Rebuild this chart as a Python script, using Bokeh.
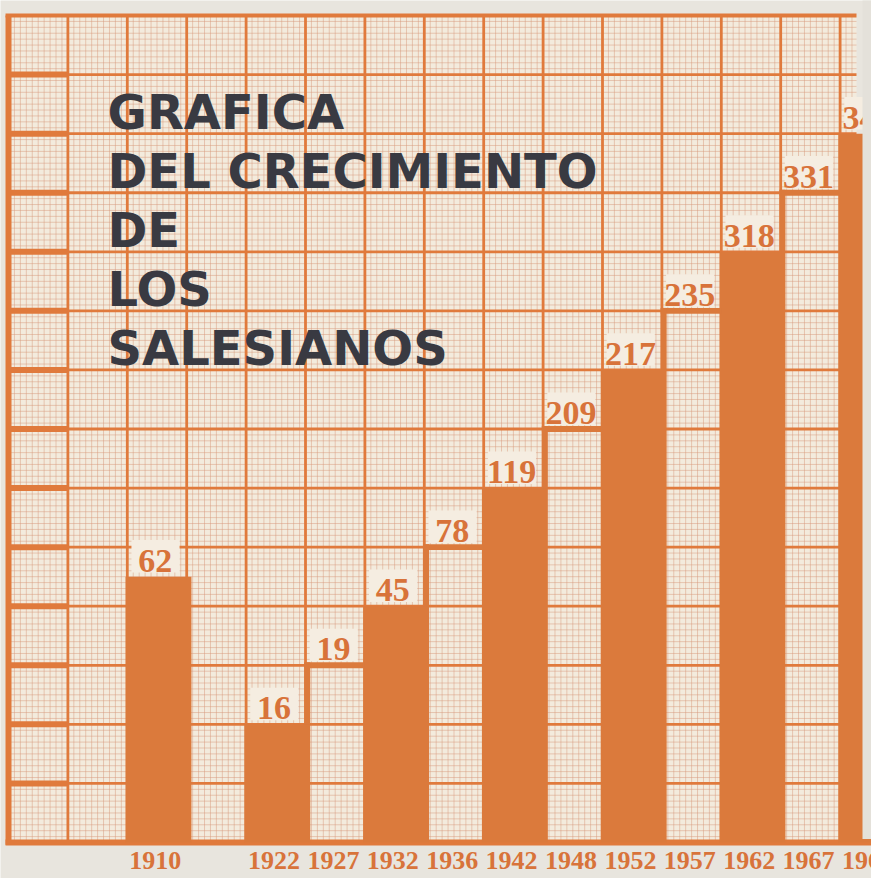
from bokeh.plotting import figure
from bokeh.models import Range1d
from bokeh.core.properties import value
from bokeh.embed import file_html
from bokeh.resources import INLINE

# ---- data ----
years = ["1910", "1922", "1927", "1932", "1936", "1942", "1948", "1952", "1957", "1962", "1967", "1969"]
counts = ["62", "16", "19", "45", "78", "119", "209", "217", "235", "318", "331", "345"]
levels = [4.5, 2, 3, 4, 5, 6, 7, 8, 9, 10, 11, 12]   # drawn height, in grid rows
title_lines = ["GRAFICA", "DEL CRECIMIENTO", "DE", "LOS", "SALESIANOS"]

# ---- layout constants ----
W, H = 871, 878
PX_X, PX_Y = 59.4, 59.07          # pixels per grid column / row
X0, Y0 = 8, 842                   # pixel position of the grid origin
N_ROWS = 14
PAPER_R = (856 - X0) / PX_X       # right edge of the paper

PAGE = "#e8e5de"
PAPER = "#f3ebdd"
MINOR = "#d8987a"
MAJOR = "#e07a3c"
BAR = "#db7a3c"
LABEL = "#d8733a"
TITLE = "#393a42"

p = figure(width=W, height=H,
           x_range=Range1d(-X0 / PX_X, (W - X0) / PX_X),
           y_range=Range1d((Y0 - H) / PX_Y, Y0 / PX_Y),
           x_axis_type=None, y_axis_type=None, min_border=0,
           output_backend="svg", toolbar_location=None)
p.grid.visible = False
p.outline_line_color = None
p.background_fill_color = PAGE
p.border_fill_color = PAGE

# paper
p.quad(left=[-0.05], right=[PAPER_R], bottom=[0], top=[N_ROWS], fill_color=PAPER, line_color=None)

# minor grid (10 per major cell)
mx = [k / 10 for k in range(1, int(PAPER_R * 10) + 1) if k % 10]
my = [k / 10 for k in range(1, N_ROWS * 10) if k % 10]
p.segment(x0=mx, y0=[0] * len(mx), x1=mx, y1=[N_ROWS] * len(mx),
          line_color=MINOR, line_width=0.8, line_alpha=0.6)
p.segment(x0=[0] * len(my), y0=my, x1=[PAPER_R] * len(my), y1=my,
          line_color=MINOR, line_width=0.8, line_alpha=0.6)

# major grid
vx = list(range(1, int(PAPER_R) + 1))
hy = list(range(1, N_ROWS))
p.segment(x0=vx, y0=[0] * len(vx), x1=vx, y1=[N_ROWS] * len(vx), line_color=MAJOR, line_width=2.8)
p.segment(x0=[0] * len(hy), y0=hy, x1=[PAPER_R] * len(hy), y1=hy, line_color=MAJOR, line_width=2.8)
# heavier marks in the left margin column
p.segment(x0=[0] * len(hy), y0=hy, x1=[1] * len(hy), y1=hy, line_color=MAJOR, line_width=6)
# borders
p.segment(x0=[0], y0=[-0.04], x1=[0], y1=[N_ROWS], line_color=MAJOR, line_width=6)
p.segment(x0=[-0.05], y0=[N_ROWS], x1=[PAPER_R], y1=[N_ROWS], line_color=MAJOR, line_width=4)
p.segment(x0=[-0.05], y0=[0], x1=[W / PX_X], y1=[0], line_color=MAJOR, line_width=6)

# columns of the chart
cols = [2] + [i + 3 for i in range(1, len(years))]
filled = [i == 0 or i % 2 == 1 for i in range(len(years))]

bl, br, bt = [], [], []
sl, sr, sb, st = [], [], [], []
for i, (c, lv) in enumerate(zip(cols, levels)):
    if filled[i]:
        bl.append(c - 0.03); br.append(c + 1.08); bt.append(lv)
    else:
        # thick top of the step
        sl.append(c - 0.02); sr.append(c + 1.0); sb.append(lv - 0.05); st.append(lv + 0.05)
        # riser from the previous bar
        sl.append(c - 0.02); sr.append(c + 0.08); sb.append(levels[i - 1]); st.append(lv + 0.05)

p.quad(left=bl, right=br, bottom=[0] * len(bl), top=bt, fill_color=BAR, line_color=None)
p.quad(left=sl, right=sr, bottom=sb, top=st, fill_color=BAR, line_color=None)

# value labels on light patches
p.quad(left=[c + 0.07 for c in cols], right=[c + 0.88 for c in cols],
       bottom=[lv + 0.07 for lv in levels], top=[lv + 0.62 for lv in levels],
       fill_color="#f5ede1", line_color=None)
p.text(x=[c + 0.47 for c in cols], y=[lv + 0.27 for lv in levels], text=counts,
       text_font=value("Liberation Serif"), text_font_style="bold", text_font_size="34px",
       text_align="center", text_baseline="middle", text_color=LABEL)

# title (line centres sit a little above the major rows)
p.text(x=[(107 - X0) / PX_X] * len(title_lines),
       y=[12.37 - k for k in range(len(title_lines))], text=title_lines,
       text_font=value("DejaVu Sans"), text_font_style="bold", text_font_size="48px",
       text_align="left", text_baseline="middle", text_color=TITLE)

# right edge of the page
p.quad(left=[(862 - X0) / PX_X], right=[W / PX_X + 1], bottom=[0.06], top=[N_ROWS + 1],
       fill_color="#e4e1da", line_color=None)

# year labels
p.text(x=[c + 0.47 for c in cols], y=[(Y0 - 860) / PX_Y] * len(cols), text=years,
       text_font=value("Liberation Serif"), text_font_style="bold", text_font_size="26px",
       text_align="center", text_baseline="middle", text_color=LABEL)

open("out.html", "w").write(file_html(p, INLINE))
